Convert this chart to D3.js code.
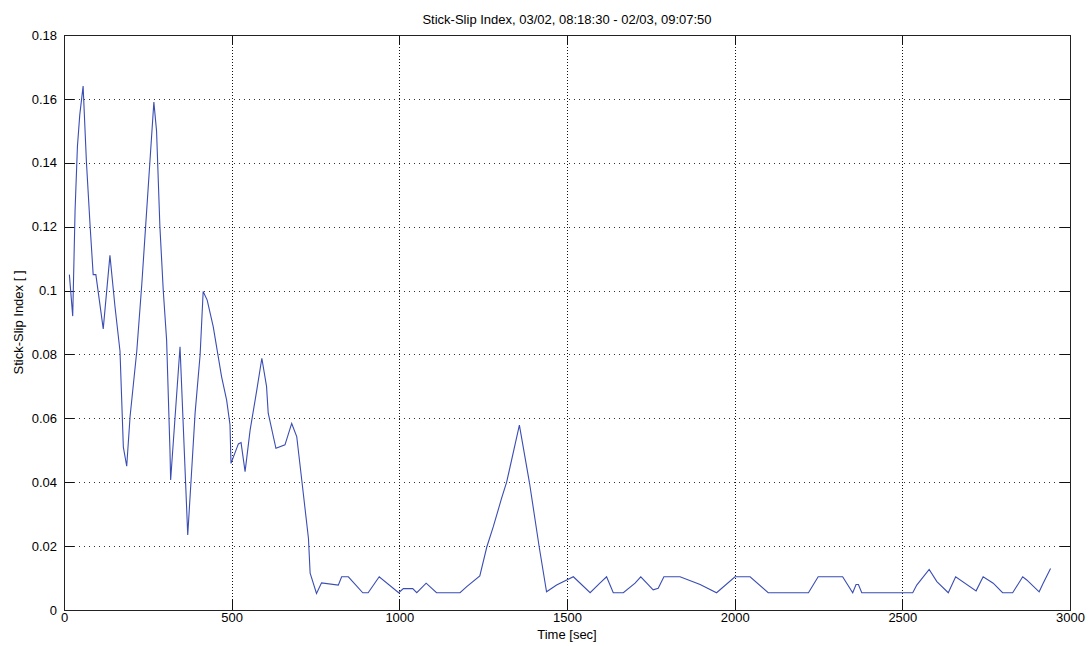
<!DOCTYPE html>
<html>
<head>
<meta charset="utf-8">
<script src="https://cdn.jsdelivr.net/npm/d3@7"></script>
<style>
  body { margin: 0; background: #fff; }
  text { font-family: "Liberation Sans", Arial, sans-serif; fill: #000; }
</style>
</head>
<body>
<svg id="chart" width="1091" height="646"></svg>
<script>

// Time stamps [sec] of the samples
const timeSec = [16, 26, 33, 40, 47, 57, 67, 78, 87, 95, 117, 137, 152, 167, 177, 187,
  197, 217, 232, 268, 276, 286, 296, 306, 316, 318, 346, 369, 379, 391, 406, 415,
  427, 445, 470, 485, 495, 498, 520, 528, 540, 555, 575, 590, 604, 609, 632, 659,
  679, 694, 709, 729, 734, 753, 768, 818, 828, 848, 891, 907, 940, 998, 1012, 1040,
  1052, 1080, 1111, 1181, 1201, 1240, 1261, 1280, 1305, 1320, 1358, 1388, 1417, 1439,
  1469, 1519, 1569, 1598, 1618, 1638, 1668, 1703, 1720, 1757, 1772, 1789, 1837, 1897,
  1946, 2001, 2046, 2100, 2220, 2249, 2322, 2352, 2362, 2369, 2379, 2531, 2543, 2580,
  2603, 2637, 2659, 2720, 2741, 2771, 2799, 2829, 2859, 2871, 2908, 2920, 2942];

// Stick-slip index values []
const stickSlip = [0.105, 0.092, 0.125, 0.145, 0.155, 0.164, 0.140, 0.120, 0.105, 0.105, 0.088, 0.111, 0.095, 0.081, 0.051, 0.045,
  0.0605, 0.081, 0.102, 0.159, 0.150, 0.120, 0.100, 0.0845, 0.050, 0.0407, 0.0824, 0.0235, 0.0407, 0.0617, 0.080, 0.0997,
  0.097, 0.0887, 0.073, 0.0657, 0.058, 0.0459, 0.052, 0.0524, 0.0433, 0.0563, 0.0689, 0.0788, 0.070, 0.0616, 0.0506, 0.0517,
  0.0584, 0.0543, 0.0407, 0.0224, 0.0115, 0.0052, 0.0085, 0.0078, 0.0104, 0.0104, 0.0054, 0.0054, 0.0104, 0.0054, 0.0067, 0.0067,
  0.0054, 0.0084, 0.0054, 0.0054, 0.0073, 0.0107, 0.0198, 0.026, 0.035, 0.040, 0.0579, 0.0399, 0.0198, 0.0057,
  0.0078, 0.0104, 0.0054, 0.0084, 0.0104, 0.0054, 0.0054, 0.0084, 0.0104, 0.0063, 0.0068, 0.0104, 0.0104, 0.008,
  0.0054, 0.0104, 0.0104, 0.0054, 0.0054, 0.0104, 0.0104, 0.0054, 0.008, 0.008, 0.0054, 0.0054, 0.0078, 0.0127,
  0.0089, 0.0054, 0.0104, 0.006, 0.0104, 0.0084, 0.0054, 0.0054, 0.0104, 0.0094, 0.0057, 0.0084, 0.013];

// Axis ticks
const xTicks = [0, 500, 1000, 1500, 2000, 2500, 3000];
const yTicks = [0, 0.02, 0.04, 0.06, 0.08, 0.1, 0.12, 0.14, 0.16, 0.18];

const titleText = 'Stick-Slip Index, 03/02, 08:18:30 - 02/03, 09:07:50';
const xLabel = 'Time [sec]';
const yLabel = 'Stick-Slip Index [ ]';

// Layout
const svg = d3.select('#chart');
const plotLeft = 64, plotRight = 1070, plotTop = 35, plotBottom = 610;
const tickLen = 10;
const lineColor = '#3a4db4';
const fontSize = '13px';

const x = d3.scaleLinear().domain([0, 3000]).range([plotLeft, plotRight]);
const y = d3.scaleLinear().domain([0, 0.18]).range([plotBottom, plotTop]);

// Grid lines (dotted, MATLAB style)
svg.append('g')
  .selectAll('line')
  .data(xTicks.slice(1, -1))
  .join('line')
    .attr('x1', d => Math.round(x(d)) + 0.5)
    .attr('x2', d => Math.round(x(d)) + 0.5)
    .attr('y1', plotTop)
    .attr('y2', plotBottom)
    .attr('stroke', '#111')
    .attr('stroke-dasharray', '1,2')
    .attr('shape-rendering', 'crispEdges');

svg.append('g')
  .selectAll('line')
  .data(yTicks.slice(1, -1))
  .join('line')
    .attr('x1', plotLeft)
    .attr('x2', plotRight)
    .attr('y1', d => Math.round(y(d)) + 0.5)
    .attr('y2', d => Math.round(y(d)) + 0.5)
    .attr('stroke', '#333')
    .attr('stroke-dasharray', '1,4')
    .attr('shape-rendering', 'crispEdges');

// Axes with inward ticks on all four sides
const fmtY = d => d === 0 ? '0' : String(+d.toFixed(2));

const xAxisB = svg.append('g')
  .attr('transform', `translate(0,${plotBottom})`)
  .call(d3.axisBottom(x).tickValues(xTicks).tickFormat(d3.format('d'))
    .tickSizeInner(-tickLen).tickSizeOuter(0).tickPadding(3));

const xAxisT = svg.append('g')
  .attr('transform', `translate(0,${plotTop})`)
  .call(d3.axisTop(x).tickValues(xTicks).tickFormat('')
    .tickSizeInner(-tickLen).tickSizeOuter(0));

const yAxisL = svg.append('g')
  .attr('transform', `translate(${plotLeft},0)`)
  .call(d3.axisLeft(y).tickValues(yTicks).tickFormat(fmtY)
    .tickSizeInner(-tickLen).tickSizeOuter(0).tickPadding(7));

const yAxisR = svg.append('g')
  .attr('transform', `translate(${plotRight},0)`)
  .call(d3.axisRight(y).tickValues(yTicks).tickFormat('')
    .tickSizeInner(-tickLen).tickSizeOuter(0));

[xAxisB, xAxisT, yAxisL, yAxisR].forEach(g => {
  g.select('.domain').remove();
  g.selectAll('.tick line').attr('stroke', '#111').attr('shape-rendering', 'crispEdges');
  g.selectAll('.tick text').style('font-size', fontSize).style('font-family', '"Liberation Sans", Arial, sans-serif').attr('fill', '#000');
});

// Box
svg.append('rect')
  .attr('x', plotLeft + 0.5)
  .attr('y', plotTop + 0.5)
  .attr('width', plotRight - plotLeft)
  .attr('height', plotBottom - plotTop)
  .attr('fill', 'none')
  .attr('stroke', '#222')
  .attr('shape-rendering', 'crispEdges');

// Data line
const points = timeSec.map((t, i) => [t, stickSlip[i]]);
svg.append('path')
  .datum(points)
  .attr('fill', 'none')
  .attr('stroke', lineColor)
  .attr('stroke-width', 1.1)
  .attr('d', d3.line().x(d => x(d[0])).y(d => y(d[1])));

// Title and labels
svg.append('text')
  .attr('x', (plotLeft + plotRight) / 2)
  .attr('y', 24)
  .attr('text-anchor', 'middle')
  .style('font-size', fontSize)
  .text(titleText);

svg.append('text')
  .attr('x', (plotLeft + plotRight) / 2)
  .attr('y', 639)
  .attr('text-anchor', 'middle')
  .style('font-size', fontSize)
  .text(xLabel);

svg.append('text')
  .attr('transform', `translate(23,${(plotTop + plotBottom) / 2}) rotate(-90)`)
  .attr('text-anchor', 'middle')
  .style('font-size', fontSize)
  .text(yLabel);

</script>
</body>
</html>
